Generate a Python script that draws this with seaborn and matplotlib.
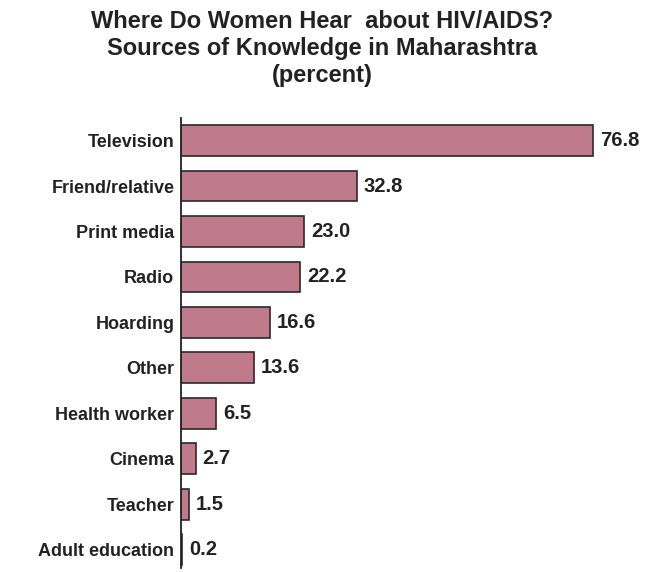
import matplotlib
matplotlib.use("Agg")
import matplotlib.pyplot as plt
import seaborn as sns
import pandas as pd

# data
sources = ['Television', 'Friend/relative', 'Print media', 'Radio', 'Hoarding',
           'Other', 'Health worker', 'Cinema', 'Teacher', 'Adult education']
percent = [76.8, 32.8, 23.0, 22.2, 16.6, 13.6, 6.5, 2.7, 1.5, 0.2]

df = pd.DataFrame({'source': sources, 'percent': percent})

sns.set_style('white')
plt.rcParams['font.family'] = ['Liberation Sans', 'DejaVu Sans']

fig = plt.figure(figsize=(6.45, 5.72), dpi=100)
ax = fig.add_axes([0.281, 0.007, 0.706, 0.787])

sns.barplot(data=df, x='percent', y='source', color='#BF7A8C', saturation=1,
            edgecolor='#2a2a2a', linewidth=1.2, width=0.68, ax=ax)

for i, v in enumerate(percent):
    ax.text(v + 1.3, i, f'{v:.1f}', va='center', ha='left',
            fontsize=14.5, fontweight='bold', color='#222222')

ax.set_xlim(0, 85)
ax.set_ylim(9.4, -0.5)
ax.set_xlabel('')
ax.set_ylabel('')
ax.set_xticks([])
ax.tick_params(axis='y', length=0, pad=5)
for lab in ax.get_yticklabels():
    lab.set_fontweight('bold')
    lab.set_fontsize(13)
    lab.set_color('#222222')
for s in ['top', 'right', 'bottom']:
    ax.spines[s].set_visible(False)
ax.spines['left'].set_color('#222222')
ax.spines['left'].set_linewidth(1.3)

fig.text(0.5, 0.982, 'Where Do Women Hear  about HIV/AIDS?\nSources of Knowledge in Maharashtra\n(percent)',
         ha='center', va='top', fontsize=17, fontweight='bold', color='#222222',
         linespacing=1.22)

fig.savefig('out.png', dpi=100)
